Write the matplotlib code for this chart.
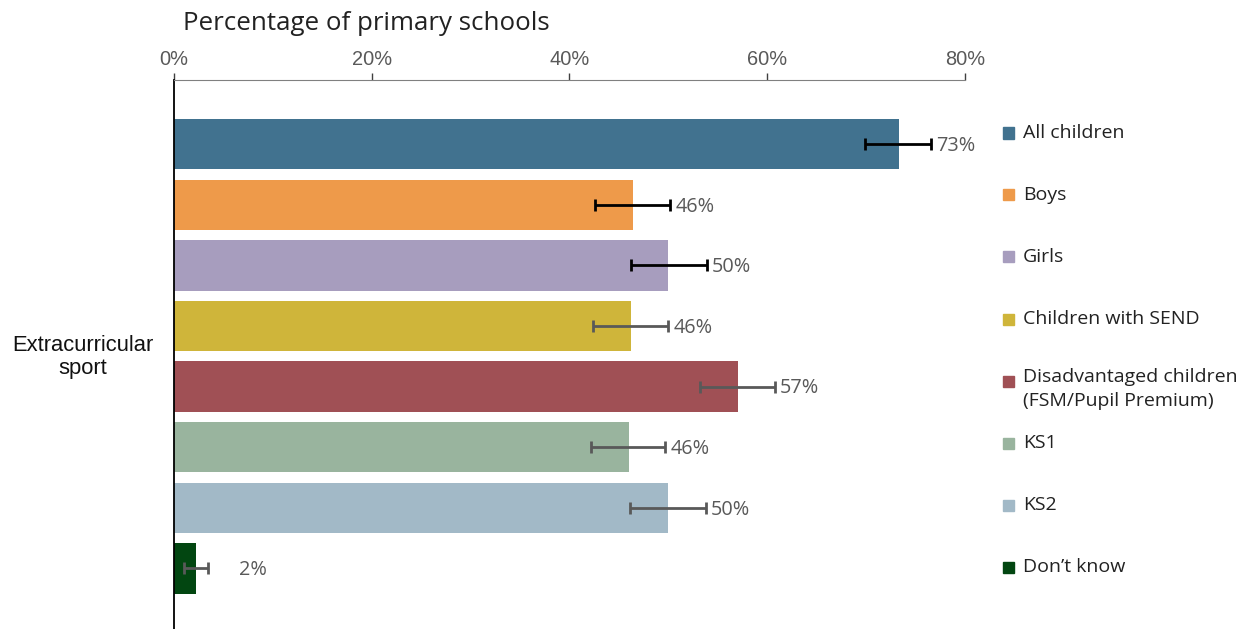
import matplotlib.pyplot as plt
from matplotlib.patches import Rectangle

categories = ['All children', 'Boys', 'Girls', 'Children with SEND',
              'Disadvantaged children\n(FSM/Pupil Premium)', 'KS1', 'KS2', 'Don\u2019t know']
values = [73.3, 46.4, 50.0, 46.2, 57.0, 46.0, 50.0, 2.2]
err_low = [69.9, 42.6, 46.2, 42.4, 53.2, 42.2, 46.1, 1.0]
err_high = [76.6, 50.2, 53.9, 50.0, 60.8, 49.7, 53.8, 3.4]
labels = ['73%', '46%', '50%', '46%', '57%', '46%', '50%', '2%']
colors = ['#41728f', '#ee9a4a', '#a79dbe', '#cfb53a', '#a05055', '#99b49e', '#a2b9c7', '#024611']
err_colors = ['black', 'black', 'black', '#595959', '#595959', '#595959', '#595959', '#595959']
xticks = [0, 20, 40, 60, 80]

font = ['Open Sans', 'DejaVu Sans']
arial = ['Liberation Sans', 'DejaVu Sans']
grey = '#595959'

fig = plt.figure(figsize=(12.46, 6.29), dpi=100)
ax = fig.add_axes([0.1396, 0.0, 0.6348, 0.8728])

pos = list(range(len(values)))
ax.barh(pos, values, height=0.83, color=colors)
for i in pos:
    lo = values[i] - err_low[i]
    hi = err_high[i] - values[i]
    ax.errorbar(values[i], i, xerr=[[lo], [hi]], fmt='none', ecolor=err_colors[i],
                elinewidth=2, capsize=4, capthick=2)
    ax.text(max(err_high[i] + 0.5, 6.6), i + 0.03, labels[i], va='center', ha='left',
            fontsize=14.3, color=grey, family=font)

ax.set_xlim(0, 80)
ax.set_ylim(8.0, -1.06)
ax.xaxis.tick_top()
ax.set_xticks(xticks)
ax.set_xticklabels([f'{t}%' for t in xticks], fontsize=14.4, color=grey, family=arial)
ax.tick_params(axis='x', direction='out', length=5, width=1, color='#404040', pad=3)
ax.set_yticks([])
for s in ['right', 'bottom']:
    ax.spines[s].set_visible(False)
ax.spines['top'].set_color('#808080')
ax.spines['left'].set_color('black')
ax.spines['left'].set_linewidth(1.3)

fig.text(183 / 1246, 1 - 24 / 629, 'Percentage of primary schools', fontsize=18.6,
         color='#222222', family=font, va='center', ha='left')
fig.text(83 / 1246, 1 - 357 / 629, 'Extracurricular\nsport', fontsize=15.8, color='#111111',
         family=arial, va='center', ha='center', multialignment='center', linespacing=1.1)

# legend drawn manually to keep even spacing
for i, (c, lab) in enumerate(zip(colors, categories)):
    yc = 1 - (133 + 62 * i) / 629
    fig.patches.append(Rectangle((1003 / 1246, yc - 5.5 / 629), 11 / 1246, 11 / 629,
                                 transform=fig.transFigure, color=c, figure=fig))
    if '\n' in lab:
        fig.text(1023 / 1246, yc + 13 / 629, lab, fontsize=14, color='#222222', family=font,
                 va='top', ha='left', linespacing=1.45)
    else:
        fig.text(1023 / 1246, yc, lab, fontsize=14, color='#222222', family=font,
                 va='center', ha='left')

fig.savefig('out.png', dpi=100)
